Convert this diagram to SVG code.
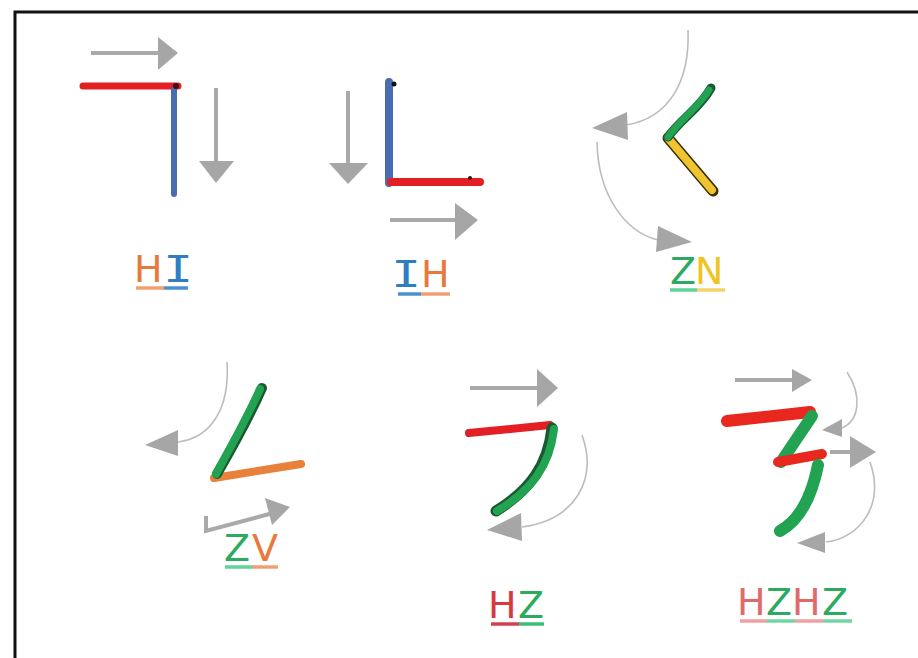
<svg xmlns="http://www.w3.org/2000/svg" width="918" height="658" viewBox="0 0 918 658">
<style>
.frame{fill:none;stroke:#111;stroke-width:3}
.ga{stroke:#a9a9a9;stroke-width:4;fill:none;stroke-linecap:butt}
.gc{stroke:#bdbdbd;stroke-width:1.6;fill:none}
.gh{fill:#a6a6a6}
.lbl{font-family:"DejaVu Sans","Liberation Sans",sans-serif;font-size:38px}
.mono{font-family:"DejaVu Sans Mono","Liberation Mono",monospace;font-size:38px}
.ul{stroke-width:3.5}
.s{fill:none;stroke-linecap:round;stroke-linejoin:round}
</style>
<rect class="frame" x="15" y="12" width="920" height="660"/>

<g id="connectors">
  <!-- HI -->
  <line class="ga" x1="91" y1="53" x2="160" y2="53"/>
  <polygon class="gh" points="158,37 178,53 158,70"/>
  <line class="ga" x1="216" y1="88" x2="216" y2="162"/>
  <polygon class="gh" points="199,161 234,161 216,183"/>
  <!-- IH -->
  <line class="ga" x1="348" y1="91" x2="348" y2="164"/>
  <polygon class="gh" points="329,163 368,163 348,184"/>
  <line class="ga" x1="390" y1="220" x2="457" y2="220"/>
  <polygon class="gh" points="455,203 478,220 455,240"/>
  <!-- ZN -->
  <path class="gc" d="M688,30 C690,80 670,118 626,125"/>
  <polygon class="gh" points="592,128 627,112 628,140"/>
  <path class="gc" d="M597,142 C598,195 625,232 658,240"/>
  <polygon class="gh" points="692,242 658,226 656,252"/>
  <!-- ZV -->
  <path class="gc" d="M227,362 C230,410 210,438 178,442"/>
  <polygon class="gh" points="145,445 178,430 178,456"/>
  <polyline class="ga" points="206,516 206,531 273,513"/>
  <polygon class="gh" points="290,507 265,498 272,525"/>
  <!-- HZ -->
  <line class="ga" x1="470" y1="388" x2="540" y2="388"/>
  <polygon class="gh" points="537,369 558,388 537,407"/>
  <path class="gc" d="M582,435 C598,480 575,520 522,527"/>
  <polygon class="gh" points="487,530 521,513 522,541"/>
  <!-- HZHZ -->
  <line class="ga" x1="735" y1="380" x2="795" y2="380"/>
  <polygon class="gh" points="792,369 812,380 792,392"/>
  <path class="gc" d="M847,372 C862,395 860,420 842,428"/>
  <polygon class="gh" points="822,430 842,419 842,437"/>
  <line class="ga" x1="830" y1="452" x2="852" y2="452"/>
  <polygon class="gh" points="850,436 876,452 850,468"/>
  <path class="gc" d="M870,462 C885,505 860,538 826,542"/>
  <polygon class="gh" points="797,543 825,532 825,553"/>
</g>

<g id="node-HI">
  <path class="s" d="M83,86 L178,86" stroke="#e31e24" stroke-width="7"/>
  <path class="s" d="M174,90 L174,194" stroke="#4a6cb3" stroke-width="6"/>
  <circle cx="176" cy="86" r="3" fill="#3a1010"/>
  <text class="lbl" x="134" y="282" fill="#e8793a">H</text>
  <text class="mono" transform="translate(178,282) scale(1.3,1)" text-anchor="middle" fill="#2f7ec1">I</text>
  <line class="ul" x1="136" y1="288" x2="164" y2="288" stroke="#f0a070"/>
  <line class="ul" x1="164" y1="288" x2="188" y2="288" stroke="#4a90d0"/>
</g>

<g id="node-IH">
  <path class="s" d="M389,82 L389,183" stroke="#4a6cb3" stroke-width="8"/>
  <path class="s" d="M391,182 L480,182" stroke="#e31e24" stroke-width="8"/>
  <circle cx="394" cy="84" r="2.5" fill="#111"/>
  <circle cx="470" cy="178" r="2" fill="#3a1010"/>
  <text class="mono" transform="translate(406,287) scale(1.3,1)" text-anchor="middle" fill="#2f7ec1">I</text>
  <text class="lbl" x="421" y="287" fill="#e8793a">H</text>
  <line class="ul" x1="398" y1="294" x2="421" y2="294" stroke="#4a90d0"/>
  <line class="ul" x1="421" y1="294" x2="450" y2="294" stroke="#f0a070"/>
</g>

<g id="node-ZN">
  <path class="s" d="M713,191 L668,138" stroke="#3a3000" stroke-width="11"/>
  <path class="s" d="M712,190 L668,138" stroke="#f0c330" stroke-width="8"/>
  <path class="s" d="M711,88 C700,108 682,118 668,137" stroke="#1a5a30" stroke-width="9"/>
  <path class="s" d="M709,90 C698,108 681,119 668,137" stroke="#22a352" stroke-width="7"/>
  <text class="lbl" y="284"><tspan x="670" fill="#2eaa60">Z</tspan><tspan x="695" fill="#f0c41e">N</tspan></text>
  <line class="ul" x1="670" y1="290" x2="697" y2="290" stroke="#5fd39a"/>
  <line class="ul" x1="697" y1="290" x2="725" y2="290" stroke="#f5d36a"/>
</g>

<g id="node-ZV">
  <path class="s" d="M214,478 L301,464" stroke="#e8823a" stroke-width="8"/>
  <path class="s" d="M262,388 C248,420 232,448 217,474" stroke="#1a5a30" stroke-width="10"/>
  <path class="s" d="M260,389 C246,420 230,448 216,474" stroke="#22a352" stroke-width="8"/>
  <text class="lbl" y="561"><tspan x="224" fill="#2eaa60">Z</tspan><tspan x="252" fill="#e8793a">V</tspan></text>
  <line class="ul" x1="225" y1="567" x2="252" y2="567" stroke="#5fd39a"/>
  <line class="ul" x1="252" y1="567" x2="278" y2="567" stroke="#f0a070"/>
</g>

<g id="node-HZ">
  <path class="s" d="M469,433 L550,425" stroke="#e31e24" stroke-width="8"/>
  <path class="s" d="M552,428 C548,465 530,490 496,511" stroke="#1a5a30" stroke-width="11"/>
  <path class="s" d="M554,429 C550,465 532,490 497,511" stroke="#22a352" stroke-width="8"/>
  <text class="lbl" y="618"><tspan x="488" fill="#d63a3f">H</tspan><tspan x="518" fill="#2eaa60">Z</tspan></text>
  <line class="ul" x1="491" y1="624" x2="519" y2="624" stroke="#d04050"/>
  <line class="ul" x1="519" y1="624" x2="544" y2="624" stroke="#3cbf78"/>
</g>

<g id="node-HZHZ">
  <path class="s" d="M727,421 L810,412" stroke="#e8281e" stroke-width="12"/>
  <path class="s" d="M812,416 L781,462" stroke="#22a352" stroke-width="12"/>
  <path class="s" d="M778,462 L822,454" stroke="#e8281e" stroke-width="10"/>
  <path class="s" d="M818,465 C812,495 800,520 780,531" stroke="#22a352" stroke-width="12"/>
  <text class="lbl" y="615"><tspan x="737" fill="#e06a6a">H</tspan><tspan x="766" fill="#2eaa60">Z</tspan><tspan x="792" fill="#e06a6a">H</tspan><tspan x="822" fill="#2eaa60">Z</tspan></text>
  <line class="ul" x1="740" y1="621" x2="767" y2="621" stroke="#f0a0a0"/>
  <line class="ul" x1="767" y1="621" x2="795" y2="621" stroke="#6fd8a0"/>
  <line class="ul" x1="795" y1="621" x2="823" y2="621" stroke="#f0a0a0"/>
  <line class="ul" x1="823" y1="621" x2="852" y2="621" stroke="#6fd8a0"/>
</g>
</svg>
